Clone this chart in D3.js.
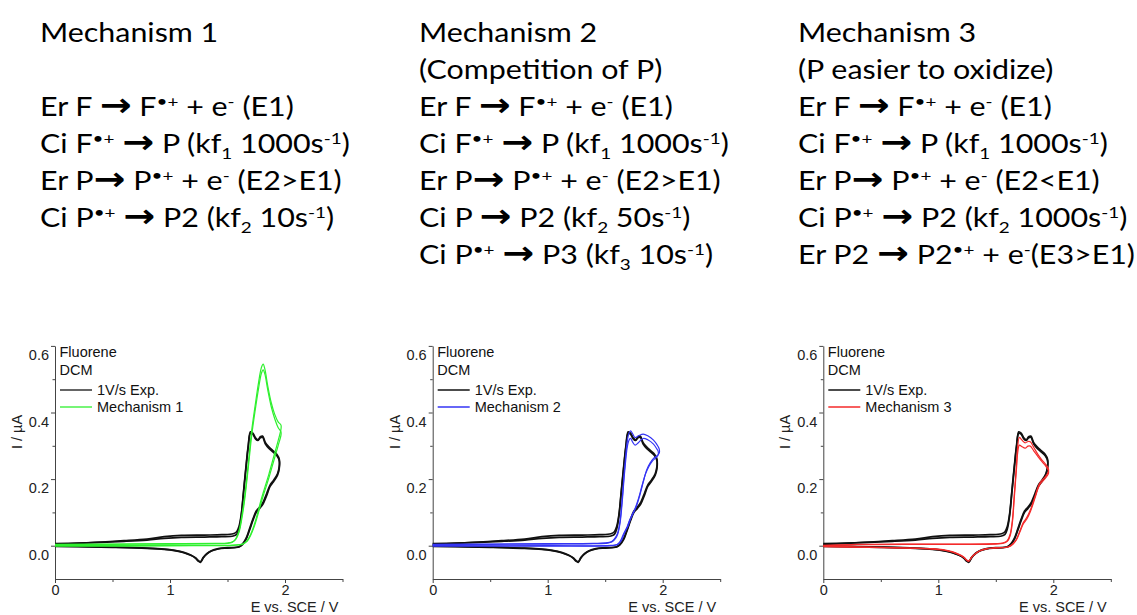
<!DOCTYPE html>
<html>
<head>
<meta charset="utf-8">
<script src="https://cdn.jsdelivr.net/npm/d3@7"></script>
<style>
body { margin: 0; background: #fff; }
svg { display: block; }
text { white-space: pre; }
</style>
</head>
<body>
<script>
// ---- text of the three mechanism columns (^{..} superscript, _{..} subscript)
const mech1Text = ["Mechanism 1", "", "Er F → F^{•+} + e^{-} (E1)", "Ci F^{•+} → P (kf_{1} 1000s^{-1})",
    "Er P→ P^{•+} + e^{-} (E2>E1)", "Ci P^{•+} → P2 (kf_{2} 10s^{-1})"];
const mech2Text = ["Mechanism 2", "(Competition of P)", "Er F → F^{•+} + e^{-} (E1)", "Ci F^{•+} → P (kf_{1} 1000s^{-1})",
    "Er P→ P^{•+} + e^{-} (E2>E1)", "Ci P → P2 (kf_{2} 50s^{-1})", "Ci P^{•+} → P3 (kf_{3} 10s^{-1})"];
const mech3Text = ["Mechanism 3", "(P easier to oxidize)", "Er F → F^{•+} + e^{-} (E1)", "Ci F^{•+} → P (kf_{1} 1000s^{-1})",
    "Er P→ P^{•+} + e^{-} (E2<E1)", "Ci P^{•+} → P2 (kf_{2} 1000s^{-1})", "Er P2 → P2^{•+} + e^{-}(E3>E1)"];

// ---- axes
const xTicks = [0, 1, 2];
const xMinor = [0.5, 1.5, 2.5];
const yTicks = [0, 0.2, 0.4, 0.6];
const yMinor = [0.1, 0.3, 0.5];
const legendHead = ["Fluorene", "DCM"];
const expLabel = "1V/s Exp.";

// ---- experimental CV, 1 V/s (E / V, I / uA), two cycles
const expCycle1 = [[0.00,0.006],[0.20,0.008],[0.40,0.010],[0.60,0.013],[0.80,0.017],[0.95,0.022],[1.10,0.025],[1.30,0.026],
    [1.45,0.027],[1.55,0.029],[1.58,0.034],[1.60,0.050],[1.62,0.090],[1.64,0.160],[1.66,0.230],[1.68,0.295],[1.70,0.338],
    [1.72,0.335],[1.745,0.320],[1.765,0.316],[1.785,0.324],[1.805,0.326],[1.83,0.305],[1.86,0.292],[1.90,0.280],[1.93,0.270],
    [1.95,0.255],[1.95,0.232],[1.935,0.212],[1.90,0.192],[1.87,0.178],[1.84,0.150],[1.81,0.126],[1.78,0.112],[1.75,0.100],
    [1.72,0.075],[1.69,0.045],[1.66,0.018],[1.63,0.003],[1.60,-0.004],[1.50,-0.007],[1.42,-0.010],[1.36,-0.016],[1.32,-0.025],
    [1.29,-0.036],[1.265,-0.050],[1.245,-0.046],[1.22,-0.037],[1.18,-0.029],[1.12,-0.021],[1.04,-0.015],[0.95,-0.011],
    [0.80,-0.008],[0.50,-0.005],[0.20,-0.003],[0.00,-0.002]];
const expCycle2 = [[0.00,0.004],[0.20,0.007],[0.40,0.011],[0.60,0.015],[0.80,0.020],[0.95,0.027],[1.10,0.031],[1.30,0.032],
    [1.45,0.033],[1.55,0.036],[1.58,0.042],[1.60,0.058],[1.62,0.095],[1.64,0.165],[1.66,0.235],[1.68,0.300],[1.70,0.342],
    [1.72,0.338],[1.745,0.323],[1.765,0.318],[1.785,0.327],[1.805,0.329],[1.83,0.309],[1.86,0.297],[1.90,0.284],[1.93,0.274],
    [1.95,0.260],[1.95,0.238],[1.935,0.216],[1.90,0.196],[1.87,0.182],[1.84,0.156],[1.81,0.131],[1.78,0.116],[1.75,0.104],
    [1.72,0.079],[1.69,0.049],[1.66,0.021],[1.63,0.005],[1.60,-0.003],[1.50,-0.006],[1.42,-0.009],[1.36,-0.015],[1.32,-0.024],
    [1.29,-0.035],[1.265,-0.048],[1.245,-0.044],[1.22,-0.036],[1.18,-0.028],[1.12,-0.020],[1.04,-0.014],[0.95,-0.010],
    [0.80,-0.007],[0.50,-0.004],[0.20,-0.002],[0.00,0.000]];

// ---- simulations
const mech1Cycle1 = [[0,0.004],[0.5,0.005],[1.0,0.006],[1.4,0.007],[1.50,0.008],[1.54,0.011],[1.57,0.020],[1.60,0.045],
    [1.625,0.090],[1.65,0.150],[1.68,0.245],[1.71,0.345],[1.74,0.420],[1.77,0.490],[1.795,0.535],[1.81,0.545],[1.825,0.530],
    [1.85,0.480],[1.88,0.430],[1.91,0.395],[1.94,0.372],[1.965,0.362],[1.965,0.350],[1.94,0.315],[1.90,0.265],[1.86,0.215],
    [1.82,0.170],[1.79,0.135],[1.76,0.095],[1.73,0.060],[1.70,0.033],[1.67,0.015],[1.63,0.005],[1.55,0.002],[1.2,0.001],
    [0.6,0.000],[0,0.000]];
const mech1Cycle2 = [[0,0.003],[0.5,0.004],[1.0,0.005],[1.4,0.006],[1.50,0.007],[1.54,0.010],[1.57,0.018],[1.60,0.040],
    [1.625,0.082],[1.65,0.140],[1.68,0.232],[1.71,0.330],[1.74,0.405],[1.77,0.472],[1.795,0.518],[1.81,0.528],[1.825,0.515],
    [1.85,0.468],[1.88,0.418],[1.91,0.382],[1.94,0.355],[1.965,0.342],[1.965,0.332],[1.94,0.300],[1.90,0.252],[1.86,0.204],
    [1.82,0.160],[1.79,0.126],[1.76,0.088],[1.73,0.055],[1.70,0.030],[1.67,0.013],[1.63,0.004],[1.55,0.001],[1.2,0.000],
    [0.6,-0.001],[0,-0.001]];

const mech2Cycle1 = [[0,0.004],[0.5,0.005],[1.0,0.006],[1.4,0.007],[1.52,0.009],[1.56,0.013],[1.59,0.025],[1.61,0.040],
    [1.63,0.077],[1.65,0.150],[1.67,0.237],[1.70,0.330],[1.72,0.345],[1.74,0.335],[1.76,0.325],[1.79,0.330],[1.83,0.335],
    [1.87,0.330],[1.92,0.317],[1.96,0.298],[1.97,0.290],[1.97,0.278],[1.95,0.270],[1.92,0.262],[1.89,0.248],[1.86,0.227],
    [1.83,0.190],[1.80,0.150],[1.77,0.117],[1.74,0.095],[1.72,0.080],[1.70,0.060],[1.67,0.040],[1.64,0.015],[1.61,0.004],
    [1.55,0.001],[1.0,0.000],[0,0.000]];
const mech2Cycle2 = [[0,0.003],[0.5,0.004],[1.0,0.005],[1.4,0.006],[1.52,0.008],[1.56,0.012],[1.59,0.022],[1.61,0.036],
    [1.63,0.070],[1.65,0.140],[1.67,0.225],[1.70,0.310],[1.72,0.322],[1.74,0.310],[1.76,0.302],[1.79,0.310],[1.83,0.322],
    [1.87,0.318],[1.92,0.305],[1.95,0.290],[1.96,0.284],[1.96,0.272],[1.94,0.264],[1.91,0.254],[1.88,0.238],[1.85,0.215],
    [1.82,0.180],[1.79,0.142],[1.76,0.112],[1.73,0.090],[1.71,0.075],[1.69,0.056],[1.66,0.036],[1.63,0.013],[1.60,0.003],
    [1.55,0.000],[1.0,-0.001],[0,-0.001]];

const mech3Cycle1 = [[0,0.001],[0.3,0.004],[0.8,0.005],[1.2,0.005],[1.5,0.006],[1.56,0.008],[1.60,0.015],[1.625,0.035],
    [1.645,0.080],[1.66,0.150],[1.68,0.245],[1.69,0.297],[1.705,0.325],[1.725,0.318],[1.755,0.309],[1.78,0.313],[1.80,0.312],
    [1.83,0.295],[1.87,0.272],[1.90,0.258],[1.93,0.246],[1.957,0.232],[1.957,0.222],[1.93,0.207],[1.88,0.187],[1.84,0.147],
    [1.80,0.107],[1.77,0.085],[1.74,0.070],[1.71,0.045],[1.68,0.020],[1.65,0.006],[1.61,-0.003],[1.50,-0.006],[1.42,-0.009],
    [1.36,-0.015],[1.32,-0.024],[1.29,-0.034],[1.265,-0.047],[1.245,-0.043],[1.22,-0.035],[1.18,-0.027],[1.12,-0.019],
    [1.04,-0.013],[0.95,-0.010],[0.80,-0.008],[0.50,-0.006],[0.20,-0.004],[0,-0.003]];
const mech3Cycle2 = [[0,0.000],[0.3,0.003],[0.8,0.004],[1.2,0.004],[1.5,0.005],[1.56,0.007],[1.60,0.013],[1.625,0.030],
    [1.645,0.072],[1.66,0.140],[1.68,0.232],[1.69,0.278],[1.705,0.302],[1.725,0.298],[1.755,0.293],[1.78,0.299],[1.80,0.299],
    [1.83,0.285],[1.87,0.266],[1.90,0.253],[1.93,0.241],[1.957,0.226],[1.957,0.216],[1.93,0.202],[1.88,0.182],[1.84,0.142],
    [1.80,0.102],[1.77,0.080],[1.74,0.066],[1.71,0.042],[1.68,0.018],[1.65,0.005],[1.61,-0.004],[1.50,-0.007],[1.42,-0.010],
    [1.36,-0.016],[1.32,-0.025],[1.29,-0.035],[1.265,-0.046],[1.245,-0.042],[1.22,-0.034],[1.18,-0.026],[1.12,-0.018],
    [1.04,-0.012],[0.95,-0.009],[0.80,-0.007],[0.50,-0.005],[0.20,-0.003],[0,-0.002]];

const W = 1137, H = 615;
const svg = d3.select("body").append("svg").attr("width", W).attr("height", H);

// rich text line: superscripts, subscripts and the bold arrow
function richLine(text, str, size)
{
    const parts = str.split(/(\^\{[^}]*\}|_\{[^}]*\}|→)/).filter(s => s !== "");
    let shift = 0;
    for(const p of parts)
    {
        let txt = p, dy = 0, fs = size;
        let arrow = false;
        if(p.startsWith("^{")) { txt = p.slice(2, -1); dy = -0.36 * size; fs = size * 0.62; }
        else if(p.startsWith("_{")) { txt = p.slice(2, -1); dy = 0.22 * size; fs = size * 0.62; }
        else if(p === "→") { arrow = true; fs = size * 1.25; }
        const t = text.append("tspan").attr("dy", dy - shift).attr("font-size", fs).text(txt);
        if(arrow) t.attr("font-family", "DejaVu Sans").attr("font-weight", "bold");
        shift = dy;
    }
}

function drawColumn(lines, x)
{
    const g = svg.append("g")
        .attr("transform", `translate(${x},0) scale(1.17,1)`)
        .attr("font-family", "Lato, 'Open Sans', sans-serif")
        .attr("fill", "#000");
    lines.forEach((ln, i) => {
        if(ln === "") return;
        const t = g.append("text").attr("x", 0).attr("y", 42 + i * 37).attr("font-size", 26);
        richLine(t, ln, 26);
    });
}

drawColumn(mech1Text, 40);
drawColumn(mech2Text, 419);
drawColumn(mech3Text, 798);

function drawPanel(x0, cyc1, cyc2, color, name)
{
    const x = d3.scaleLinear().domain([0, 2.5]).range([x0, x0 + 287.5]);
    const y = d3.scaleLinear().domain([-0.1, 0.6]).range([579, 345.9]);
    const g = svg.append("g")
        .attr("font-family", "'Liberation Sans', Arial, sans-serif");

    const axisColor = "#444";
    const yBase = y(-0.1);

    // x axis
    const gx = g.append("g").attr("transform", `translate(0,${yBase})`)
        .call(d3.axisBottom(x).tickValues(xTicks).tickSize(4).tickSizeOuter(0).tickFormat(d3.format("d")));
    g.append("g").attr("transform", `translate(0,${yBase})`)
        .call(d3.axisBottom(x).tickValues(xMinor).tickSize(3).tickFormat(""))
        .call(a => a.select(".domain").remove());
    gx.selectAll("text").attr("font-size", 14.5).attr("fill", "#222").attr("y", 6).attr("dy", "0.71em");

    // y axis
    const gy = g.append("g").attr("transform", `translate(${x0},0)`)
        .call(d3.axisLeft(y).tickValues(yTicks).tickSize(4).tickSizeOuter(0).tickFormat(d3.format(".1f")));
    g.append("g").attr("transform", `translate(${x0},0)`)
        .call(d3.axisLeft(y).tickValues(yMinor).tickSize(2.5).tickFormat(""))
        .call(a => a.select(".domain").remove());
    gy.selectAll("text").attr("font-size", 14.5).attr("fill", "#222").attr("x", -6).attr("y", 9);

    g.selectAll(".domain, .tick line").attr("stroke", axisColor);

    g.append("text")
        .attr("transform", `translate(${x0 - 33},${432}) rotate(-90)`)
        .attr("text-anchor", "middle").attr("font-size", 14.5).attr("fill", "#222")
        .text("I / µA");
    g.append("text")
        .attr("x", x(2.5) - 4).attr("y", 611.8)
        .attr("text-anchor", "end").attr("font-size", 14.5).attr("fill", "#222")
        .text("E vs. SCE / V");

    // legend
    legendHead.forEach((s, i) => {
        g.append("text").attr("x", x0 + 4.5).attr("y", 357 + i * 18)
            .attr("font-size", 14.5).attr("fill", "#111").text(s);
    });
    [[expLabel, "#111"], [name, color]].forEach(([s, c], i) => {
        const ly = 390 + i * 17;
        g.append("line").attr("x1", x0 + 5).attr("x2", x0 + 37).attr("y1", ly).attr("y2", ly)
            .attr("stroke", c).attr("stroke-width", 1.3);
        g.append("text").attr("x", x0 + 42).attr("y", ly + 5)
            .attr("font-size", 14.5).attr("fill", "#111").text(s);
    });

    // curves
    const line = d3.line().x(d => x(d[0])).y(d => y(d[1])).curve(d3.curveCatmullRom.alpha(0.5));
    for(const c of [expCycle1, expCycle2])
    {
        g.append("path").datum(c).attr("d", line)
            .attr("fill", "none").attr("stroke", "#111").attr("stroke-width", 1.7)
            .attr("stroke-linejoin", "round");
    }
    for(const c of [cyc1, cyc2])
    {
        g.append("path").datum(c).attr("d", line)
            .attr("fill", "none").attr("stroke", color).attr("stroke-width", 1.2)
            .attr("stroke-linejoin", "round");
    }
}

drawPanel(55, mech1Cycle1, mech1Cycle2, "#2ef02e", "Mechanism 1");
drawPanel(432.7, mech2Cycle1, mech2Cycle2, "#3434f4", "Mechanism 2");
drawPanel(823.3, mech3Cycle1, mech3Cycle2, "#f42a2a", "Mechanism 3");
</script>
</body>
</html>
